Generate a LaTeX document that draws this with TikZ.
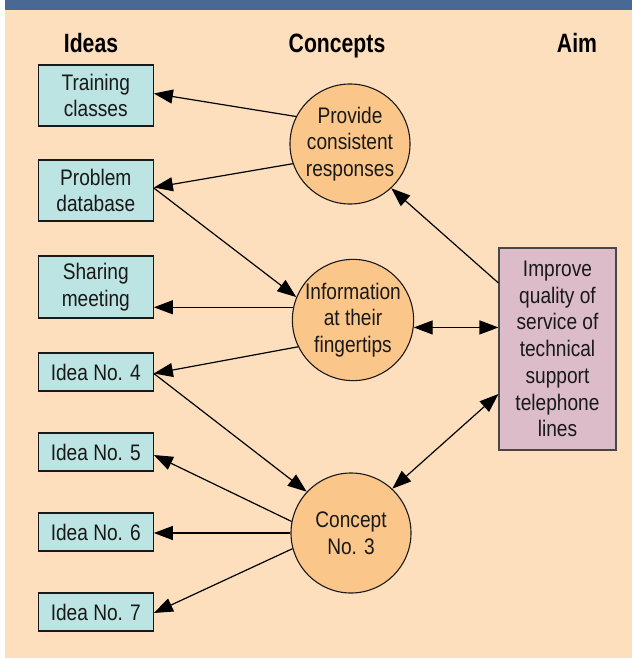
\documentclass[tikz,border=0pt]{standalone}
\usepackage{fontspec}
\setmainfont{Liberation Sans}[FakeStretch=0.85]
\newfontfamily\headfont{Liberation Sans}[FakeStretch=0.8]
\usetikzlibrary{arrows.meta}
\definecolor{bgpeach}{RGB}{253,223,190}
\definecolor{hdrblue}{RGB}{73,104,148}
\definecolor{ideafill}{RGB}{188,228,226}
\definecolor{circfill}{RGB}{251,198,138}
\definecolor{aimfill}{RGB}{220,188,200}
\definecolor{inkc}{RGB}{25,25,25}
\begin{document}
\begin{tikzpicture}[x=1pt,y=-1pt,
  ideabox/.style={draw=inkc,line width=1.1pt,fill=ideafill,minimum width=115pt,inner sep=0pt,align=center,text=inkc,font=\fontsize{22.5}{26.7}\selectfont},
  concept/.style={draw=inkc,line width=1.1pt,fill=circfill,circle,minimum size=120pt,inner sep=0pt,align=center,text=inkc,font=\fontsize{22.5}{26.7}\selectfont},
  aimbox/.style={draw=inkc!80,line width=1.1pt,fill=aimfill,minimum width=117pt,minimum height=202pt,inner sep=0pt,align=center,text=inkc,font=\fontsize{22.5}{26.7}\selectfont},
  heading/.style={text=black,font=\headfont\bfseries\fontsize{26.5}{30}\selectfont,anchor=base},
  arr/.style={draw=black,line width=1.2pt,-{Triangle[length=19pt,width=14pt]}},
  darr/.style={draw=black,line width=1.2pt,{Triangle[length=19pt,width=14pt]}-{Triangle[length=19pt,width=14pt]}}]
\useasboundingbox (0,0) rectangle (632,658);
\fill[white] (0,0) rectangle (632,658);
\fill[bgpeach] (5,0) rectangle (632,658);
\fill[hdrblue] (5,0) rectangle (632,10);
% headings
\node[heading] (hideas) at (91,53) {Ideas};
\node[heading] (hconc) at (337,53) {Concepts};
\node[heading] (haim) at (577,53) {Aim};
% idea boxes
\node[ideabox,minimum height=61pt] (train) at (95.8,95.5) {Training\\classes};
\node[ideabox,minimum height=61pt] (prob) at (95.8,190.5) {Problem\\database};
\node[ideabox,minimum height=62pt] (share) at (95.8,287) {Sharing\\meeting};
\node[ideabox,minimum height=38pt] (i4) at (95.8,372) {Idea No. 4};
\node[ideabox,minimum height=38pt] (i5) at (95.8,452) {Idea No. 5};
\node[ideabox,minimum height=38pt] (i6) at (95.8,532) {Idea No. 6};
\node[ideabox,minimum height=38pt] (i7) at (95.8,612) {Idea No. 7};
% concepts
\node[concept] (prov) at (350,144) {Provide\\consistent\\responses};
\node[concept] (info) at (353,320) {Information\\at their\\fingertips};
\node[concept] (c3) at (351,533) {Concept\\No. 3};
% aim
\node[aimbox] (aim) at (557.5,349) {Improve\\quality of\\service of\\technical\\support\\telephone\\lines};
% connectors
\draw[arr] (prov.153.8) -- ([yshift=2pt]train.east);
\draw[arr] (prov.199) -- ([yshift=3pt]prob.east);
\draw[arr] ([yshift=2.5pt]prob.east) -- (info.158);
\draw[arr] (info.168.5) -- (info.168.5 -| share.east);
\draw[arr] (info.206) -- ([yshift=-1.5pt]i4.east);
\draw[arr] ([yshift=-1.5pt]i4.east) -- (c3.137);
\draw[arr] (c3.169) -- ([yshift=-3pt]i5.east);
\draw[arr] (c3.west) -- (c3.west -| i6.east);
\draw[arr] (c3.195.6) -- ([yshift=-1pt]i7.east);
\draw[darr] (info.-7.7) -- (info.-7.7 -| aim.west);
\draw[arr] ([yshift=66pt]aim.west) -- (prov.-47.6);
\draw[darr] (c3.47) -- ([yshift=-45pt]aim.west);
\end{tikzpicture}
\end{document}
